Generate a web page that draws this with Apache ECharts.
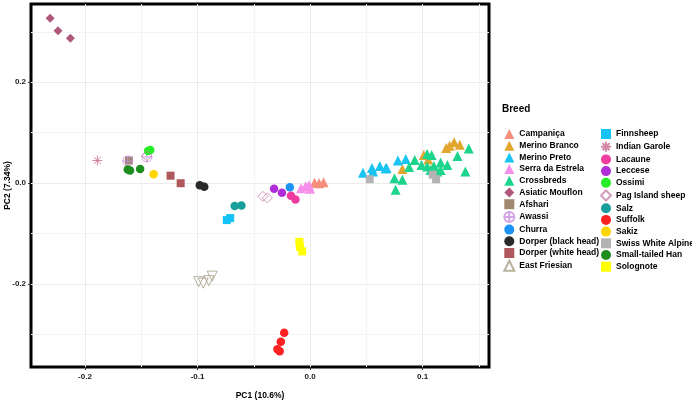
<!DOCTYPE html>
<html>
<head>
<meta charset="utf-8">
<script src="https://cdn.jsdelivr.net/npm/echarts@6/dist/echarts.min.js"></script>
<style>
html,body{margin:0;padding:0;background:#fff;}
#chart{width:692px;height:402px;}
</style>
</head>
<body>
<div id="chart"></div>
<script>
// ---- data (PC1, PC2) per breed ----
const breeds = ['Campaniça','Merino Branco','Merino Preto','Serra da Estrela','Crossbreds','Asiatic Mouflon','Afshari','Awassi','Churra','Dorper (black head)','Dorper (white head)','East Friesian','Finnsheep','Indian Garole','Lacaune','Leccese','Ossimi','Pag Island sheep','Salz','Suffolk','Sakiz','Swiss White Alpine','Small-tailed Han','Solognote'];

const campanica = [[0.004,0.001],[0.008,0.000],[0.012,0.002]];
const merinoBranco = [[0.082,0.028],[0.101,0.056],[0.105,0.047],[0.121,0.070],[0.124,0.074],[0.128,0.081],[0.133,0.076]];
const merinoPreto = [[0.047,0.021],[0.055,0.030],[0.062,0.034],[0.068,0.030],[0.056,0.023],[0.067,0.029],[0.078,0.045],[0.085,0.048]];
const serraEstrela = [[-0.008,-0.010],[-0.004,-0.006],[-0.001,-0.004],[0.000,-0.011]];
const crossbreds = [[0.075,0.010],[0.082,0.007],[0.076,-0.013],[0.088,0.032],[0.093,0.046],[0.104,0.058],[0.108,0.056],[0.099,0.036],[0.104,0.033],[0.110,0.034],[0.116,0.041],[0.122,0.036],[0.113,0.023],[0.107,0.026],[0.116,0.026],[0.141,0.069],[0.131,0.054],[0.138,0.023]];
const asiaticMouflon = [[-0.231,0.327],[-0.224,0.302],[-0.213,0.287]];
const afshari = [[-0.161,0.045]];
const awassi = [[-0.162,0.044],[-0.145,0.052]];
const churra = [[-0.018,-0.008]];
const dorperBlack = [[-0.098,-0.004],[-0.094,-0.007]];
const dorperWhite = [[-0.124,0.015],[-0.115,0.000]];
const eastFriesian = [[-0.099,-0.195],[-0.095,-0.198],[-0.090,-0.193],[-0.087,-0.184]];
const finnsheep = [[-0.074,-0.073],[-0.071,-0.069]];
const indianGarole = [[-0.189,0.045]];
const lacaune = [[-0.017,-0.025],[-0.013,-0.032]];
const leccese = [[-0.032,-0.011],[-0.025,-0.019]];
const ossimi = [[-0.144,0.064],[-0.142,0.066]];
const pagIsland = [[-0.145,0.054],[-0.042,-0.026],[-0.038,-0.029]];
const salz = [[-0.067,-0.045],[-0.061,-0.044]];
const suffolk = [[-0.023,-0.296],[-0.026,-0.314],[-0.029,-0.329],[-0.027,-0.333]];
const sakiz = [[-0.139,0.018]];
const swissWhiteAlpine = [[0.053,0.008],[0.109,0.017],[0.112,0.008]];
const smallTailedHan = [[-0.162,0.027],[-0.160,0.025],[-0.151,0.028]];
const solognote = [[-0.0095,-0.116],[-0.009,-0.126],[-0.007,-0.135]];

const breedData = [campanica,merinoBranco,merinoPreto,serraEstrela,crossbreds,asiaticMouflon,afshari,awassi,churra,dorperBlack,dorperWhite,eastFriesian,finnsheep,indianGarole,lacaune,leccese,ossimi,pagIsland,salz,suffolk,sakiz,swissWhiteAlpine,smallTailedHan,solognote];

const xMajorTicks = [-0.2,-0.1,0.0,0.1];
const xMinorTicks = [-0.15,-0.05,0.05,0.15];
const yMajorTicks = [-0.2,0.0,0.2];
const yMinorTicks = [-0.3,-0.1,0.1,0.3];

// ---- styles ----
const ASTER = 'path://M0,-10L0,10M-10,0L10,0M-7.07,-7.07L7.07,7.07M-7.07,7.07L7.07,-7.07';
const OPLUS = 'path://M10,0A10,10 0 1 1 -10,0A10,10 0 1 1 10,0ZM-10,0L10,0M0,-10L0,10';
const styles = [
  {c:'#F58F7C', s:'triangle'},
  {c:'#E3A62F', s:'triangle'},
  {c:'#1AC4F2', s:'triangle'},
  {c:'#F58FEA', s:'triangle'},
  {c:'#1DD48C', s:'triangle'},
  {c:'#B0587C', s:'diamond'},
  {c:'#A0876F', s:'rect'},
  {c:'#C98BE0', s:OPLUS, open:true},
  {c:'#1C93F5', s:'circle'},
  {c:'#2A2A2A', s:'circle'},
  {c:'#B0585C', s:'rect'},
  {c:'#A59F85', s:'triangle', open:true, rot:180},
  {c:'#15C3F5', s:'rect'},
  {c:'#C56B8F', s:ASTER, open:true},
  {c:'#F03C9E', s:'circle'},
  {c:'#B02ED8', s:'circle'},
  {c:'#26EE26', s:'circle'},
  {c:'#C583A8', s:'diamond', open:true},
  {c:'#1A9E9A', s:'circle'},
  {c:'#FF2222', s:'circle'},
  {c:'#FFD500', s:'circle'},
  {c:'#B3B3B3', s:'rect'},
  {c:'#1E8E1E', s:'circle'},
  {c:'#FFFF00', s:'rect'}
];

const FONT = "'Liberation Sans', Arial, sans-serif";

const series = breeds.map((name, i) => {
  const st = styles[i];
  const sz = st.s === 'triangle' ? 10 : (st.s === 'circle' ? 8.5 : (st.s === 'rect' ? 8 : 9));
  return {
    name: name,
    type: 'scatter',
    xAxisIndex: 0,
    yAxisIndex: 0,
    data: breedData[i],
    symbol: st.s,
    symbolSize: st.open && st.s !== 'triangle' ? 10 : sz,
    symbolRotate: st.rot || 0,
    symbolKeepAspect: true,
    silent: true,
    animation: false,
    itemStyle: st.open ? {color: 'rgba(0,0,0,0)', borderColor: st.c, borderWidth: 1} : {color: st.c, opacity: 1}
  };
});

const legendBase = {
  orient: 'vertical',
  itemWidth: 10,
  itemHeight: 10,
  itemGap: 1.7,
  padding: 0,
  selectedMode: false,
  textStyle: {fontFamily: FONT, fontWeight: 'bold', fontSize: 8.5, color: '#000', padding: [0,0,0,0]}
};

const labelStyle = {fontFamily: FONT, fontWeight: 'bold', fontSize: 8, color: '#1a1a1a'};

const option = {
  backgroundColor: '#fff',
  animation: false,
  title: {
    text: 'Breed', left: 502, top: 104, padding: 0,
    textStyle: {fontFamily: FONT, fontWeight: 'bold', fontSize: 10, color: '#000'}
  },
  legend: [
    Object.assign({}, legendBase, {left: 503.3, top: 129, data: breeds.slice(0, 12)}),
    Object.assign({}, legendBase, {left: 600, top: 129, data: breeds.slice(12)})
  ],
  grid: {
    left: 31, top: 4, width: 458, height: 363,
    containLabel: false, outerBoundsMode: 'none',
    show: true, borderColor: '#000', borderWidth: 3, backgroundColor: '#fff'
  },
  xAxis: [
    {
      type: 'value', min: -0.248, max: 0.159, position: 'bottom',
      axisLine: {show: false, onZero: false},
      axisTick: {show: true, length: 3, customValues: xMajorTicks, lineStyle: {color: '#333'}},
      axisLabel: {customValues: xMajorTicks, formatter: v => v.toFixed(1), margin: 6, ...labelStyle},
      splitLine: {show: true, lineStyle: {color: '#EBEBEB', width: 1}},
      name: 'PC1 (10.6%)', nameLocation: 'middle', nameGap: 24, nameMoveOverlap: false,
      nameTextStyle: {fontFamily: FONT, fontWeight: 'bold', fontSize: 8.5, color: '#000'}
    },
    {
      type: 'value', min: -0.248, max: 0.159, position: 'top',
      axisLine: {show: false, onZero: false},
      axisTick: {show: false, customValues: xMinorTicks},
      axisLabel: {show: false, customValues: xMinorTicks},
      splitLine: {show: true, lineStyle: {color: '#F3F3F3', width: 1}}
    }
  ],
  yAxis: [
    {
      type: 'value', min: -0.364, max: 0.355, position: 'left',
      axisLine: {show: false, onZero: false},
      axisTick: {show: true, length: 3, customValues: yMajorTicks, lineStyle: {color: '#333'}},
      axisLabel: {customValues: yMajorTicks, formatter: v => v.toFixed(1), margin: 5, ...labelStyle},
      splitLine: {show: true, lineStyle: {color: '#EBEBEB', width: 1}},
      name: 'PC2 (7.34%)', nameLocation: 'middle', nameGap: 19, nameRotate: 90, nameMoveOverlap: false,
      nameTextStyle: {fontFamily: FONT, fontWeight: 'bold', fontSize: 8.5, color: '#000'}
    },
    {
      type: 'value', min: -0.364, max: 0.355, position: 'right',
      axisLine: {show: false, onZero: false},
      axisTick: {show: false, customValues: yMinorTicks},
      axisLabel: {show: false, customValues: yMinorTicks},
      splitLine: {show: true, lineStyle: {color: '#F3F3F3', width: 1}}
    }
  ],
  series: series
};

const chart = echarts.init(document.getElementById('chart'), null, {renderer: 'canvas'});
chart.setOption(option);
</script>
</body>
</html>
